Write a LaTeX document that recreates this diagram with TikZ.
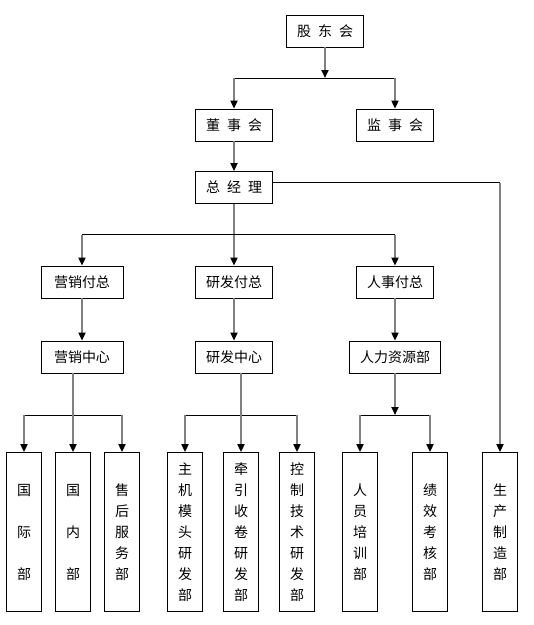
\documentclass[tikz,border=0pt]{standalone}
\usepackage{fontspec}
\setmainfont{Noto Sans CJK SC}
\usetikzlibrary{arrows.meta}
\definecolor{linegray}{RGB}{128,128,128}
\newcommand{\zsp}{\hspace{7pt}}
\begin{document}
\begin{tikzpicture}[x=1pt,y=-1pt,
  box/.style={draw=black, line width=0.8pt, inner sep=0pt, minimum width=77pt,
    minimum height=32pt, font=\fontsize{14}{21}\selectfont},
  tall/.style={box, minimum width=35pt, minimum height=159pt, align=center},
  arr/.style={linegray, line width=1.8pt, -{Triangle[width=7pt,length=8pt,color=black]}},
  bus/.style={black, line width=0.8pt}]
\useasboundingbox (0,0) rectangle (534,625);
% upper levels
\node[box] (gdh) at (325,31) {股\zsp 东\zsp 会};
\node[box] (dsh) at (234,125) {董\zsp 事\zsp 会};
\node[box] (jsh) at (395,125) {监\zsp 事\zsp 会};
\node[box] (zjl) at (234,187.5) {总\zsp 经\zsp 理};
\node[box, minimum width=82pt] (yxfz) at (82,282) {营销付总};
\node[box] (yffz) at (234,282) {研发付总};
\node[box] (rsfz) at (395,282) {人事付总};
\node[box, minimum width=82pt] (yxzx) at (82,357) {营销中心};
\node[box] (yfzx) at (234,357) {研发中心};
\node[box, minimum width=91pt] (rlzy) at (395,357) {人力资源部};
% departments
\node[tall] (gjb) at (24,532) {国\\[21pt]际\\[21pt]部};
\node[tall] (gnb) at (73,532) {国\\[21pt]内\\[21pt]部};
\node[tall] (shfw) at (122,532) {售\\后\\服\\务\\部};
\node[tall] (zjmt) at (185,532) {主\\机\\模\\头\\研\\发\\部};
\node[tall] (qysj) at (241,532) {牵\\引\\收\\卷\\研\\发\\部};
\node[tall] (kzjs) at (297,532) {控\\制\\技\\术\\研\\发\\部};
\node[tall] (rypx) at (360,532) {人\\员\\培\\训\\部};
\node[tall] (jxkh) at (430,532) {绩\\效\\考\\核\\部};
\node[tall] (sczz) at (500,532) {生\\产\\制\\造\\部};
\coordinate (bus1) at (0,78);
\coordinate (bus2) at (0,234.6);
\coordinate (bus3) at (0,415);
\coordinate (zjlr) at ([yshift=5pt]zjl.east);
% connectors
\draw[arr] (gdh.south) -- (gdh |- bus1);
\draw[bus] (dsh |- bus1) -- (jsh |- bus1);
\draw[arr] (dsh |- bus1) -- (dsh.north);
\draw[arr] (jsh |- bus1) -- (jsh.north);
\draw[arr] (dsh.south) -- (zjl.north);
\draw[arr] (zjl.south) -- (yffz.north);
\draw[bus] (yxfz |- bus2) -- (rsfz |- bus2);
\draw[arr] (yxfz |- bus2) -- (yxfz.north);
\draw[arr] (rsfz |- bus2) -- (rsfz.north);
\draw[bus] (zjlr) -- (zjlr -| sczz);
\draw[arr] (zjlr -| sczz) -- (sczz.north);
\draw[arr] (yxfz.south) -- (yxzx.north);
\draw[arr] (yffz.south) -- (yfzx.north);
\draw[arr] (rsfz.south) -- (rlzy.north);
\draw[bus] (gjb |- bus3) -- (shfw |- bus3);
\draw[arr] (yxzx.south -| gnb) -- (gnb.north);
\draw[arr] (gjb |- bus3) -- (gjb.north);
\draw[arr] (shfw |- bus3) -- (shfw.north);
\draw[bus] (zjmt |- bus3) -- (kzjs |- bus3);
\draw[arr] (yfzx.south -| qysj) -- (qysj.north);
\draw[arr] (zjmt |- bus3) -- (zjmt.north);
\draw[arr] (kzjs |- bus3) -- (kzjs.north);
\draw[arr] (rlzy.south) -- (rlzy |- bus3);
\draw[bus] (rypx |- bus3) -- (jxkh |- bus3);
\draw[arr] (rypx |- bus3) -- (rypx.north);
\draw[arr] (jxkh |- bus3) -- (jxkh.north);
\end{tikzpicture}
\end{document}
